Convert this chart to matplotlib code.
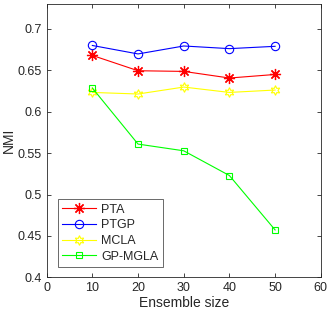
import matplotlib
matplotlib.use('Agg')
import matplotlib.pyplot as plt

plt.rcParams['font.family'] = ['Liberation Sans', 'DejaVu Sans']

# Data
sizes = [10, 20, 30, 40, 50]
pta = [0.668, 0.6495, 0.6487, 0.6407, 0.645]
ptgp = [0.680, 0.6698, 0.6794, 0.6762, 0.679]
mcla = [0.6233, 0.6214, 0.6298, 0.6233, 0.6262]
gp_mgla = [0.6286, 0.5609, 0.5528, 0.5229, 0.4572]

fig = plt.figure(figsize=(3.28, 3.15), dpi=100)
ax = fig.add_axes([0.1423, 0.1197, 0.8357, 0.8673])

ax.plot(sizes, pta, color='r', marker=(8, 2, 0), markersize=8, mew=0.9, lw=0.8, label='PTA')
ax.plot(sizes, ptgp, color='b', marker='o', markersize=6, mfc='none', mew=0.8, lw=0.8, label='PTGP')
ax.plot(sizes, mcla, color='#ffff00', marker=(6, 1, 0), markersize=7, mfc='none', mew=0.8, lw=0.8, label='MCLA')
ax.plot(sizes, gp_mgla, color='#00ff00', marker='s', markersize=5, mfc='none', mew=0.8, lw=0.8, label='GP-MGLA')

ax.set_xlim(0, 60)
ax.set_ylim(0.4, 0.73)
ax.set_xticks([0, 10, 20, 30, 40, 50, 60])
ax.set_yticks([0.4, 0.45, 0.5, 0.55, 0.6, 0.65, 0.7])
ax.set_yticklabels(['0.4', '0.45', '0.5', '0.55', '0.6', '0.65', '0.7'])
ax.tick_params(direction='in', top=True, right=True, labelsize=9, colors='#262626',
               length=3, width=0.6)
for s in ax.spines.values():
    s.set_color('#262626')
    s.set_linewidth(0.6)

ax.set_xlabel('Ensemble size', fontsize=10, color='#262626', labelpad=1)
ax.set_ylabel('NMI', fontsize=10, color='#262626', labelpad=1)

leg = ax.legend(loc='lower left', bbox_to_anchor=(0.04, 0.037), borderaxespad=0,
                fontsize=9, fancybox=False, edgecolor='#262626', handlelength=2.7,
                borderpad=0.35, labelspacing=0.3, handletextpad=0.45)
leg.get_frame().set_linewidth(0.6)
for t in leg.get_texts():
    t.set_color('#262626')

fig.savefig('out.png', dpi=100, facecolor='white')
